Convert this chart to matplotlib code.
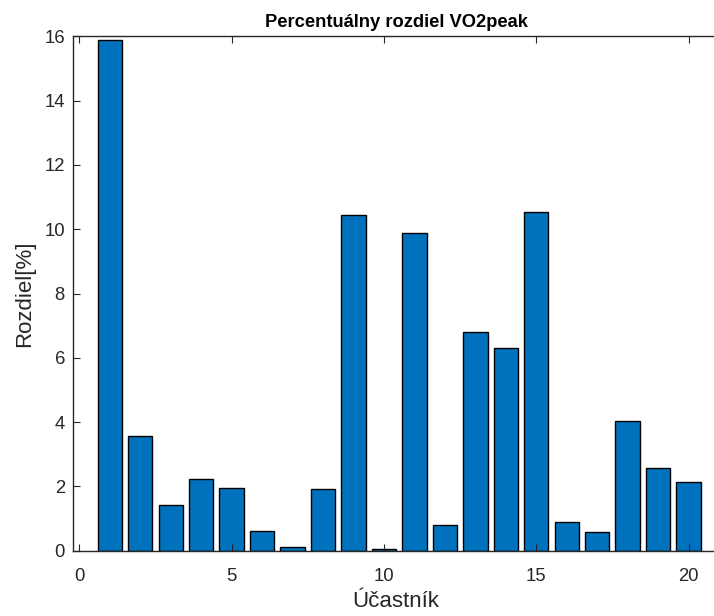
import matplotlib
matplotlib.use("Agg")
from matplotlib import pyplot as plt

participants = list(range(1, 21))
difference = [15.9, 3.58, 1.42, 2.23, 1.95, 0.61, 0.12, 1.92, 10.45, 0.05,
              9.89, 0.80, 6.79, 6.30, 10.53, 0.88, 0.58, 4.04, 2.58, 2.15]
x_ticks = [0, 5, 10, 15, 20]
y_ticks = [0, 2, 4, 6, 8, 10, 12, 14, 16]

plt.rcParams['font.family'] = ['Liberation Sans', 'DejaVu Sans']
dark = "#262626"

fig = plt.figure(figsize=(7.14, 6.16), dpi=100)
# right edge deliberately a bit past the figure, like the cropped original
ax = fig.add_axes([73.3 / 714, 1 - 550.7 / 616, (719 - 73.3) / 714, (550.7 - 36.3) / 616])

ax.bar(participants, difference, width=0.8, color="#0072BD", edgecolor="black", linewidth=1)

ax.set_xlim(-0.2, 21)
ax.set_ylim(0, 16)
ax.set_xticks(x_ticks)
ax.set_yticks(y_ticks)
ax.tick_params(direction="in", length=5, width=0.8, colors=dark, labelsize=13.3,
               top=True, right=False)
ax.tick_params(axis="x", pad=12.5)
ax.tick_params(axis="y", pad=6)
for s in ax.spines.values():
    s.set_color(dark)
    s.set_linewidth(1)

ax.set_title("Percentuálny rozdiel VO2peak", fontsize=13.2, fontweight="bold", pad=7)
ax.set_xlabel("Účastník", fontsize=16, color=dark, labelpad=4.5)
ax.set_ylabel("Rozdiel[%]", fontsize=16, color=dark, labelpad=6.5)

fig.savefig("out.png", dpi=100)
